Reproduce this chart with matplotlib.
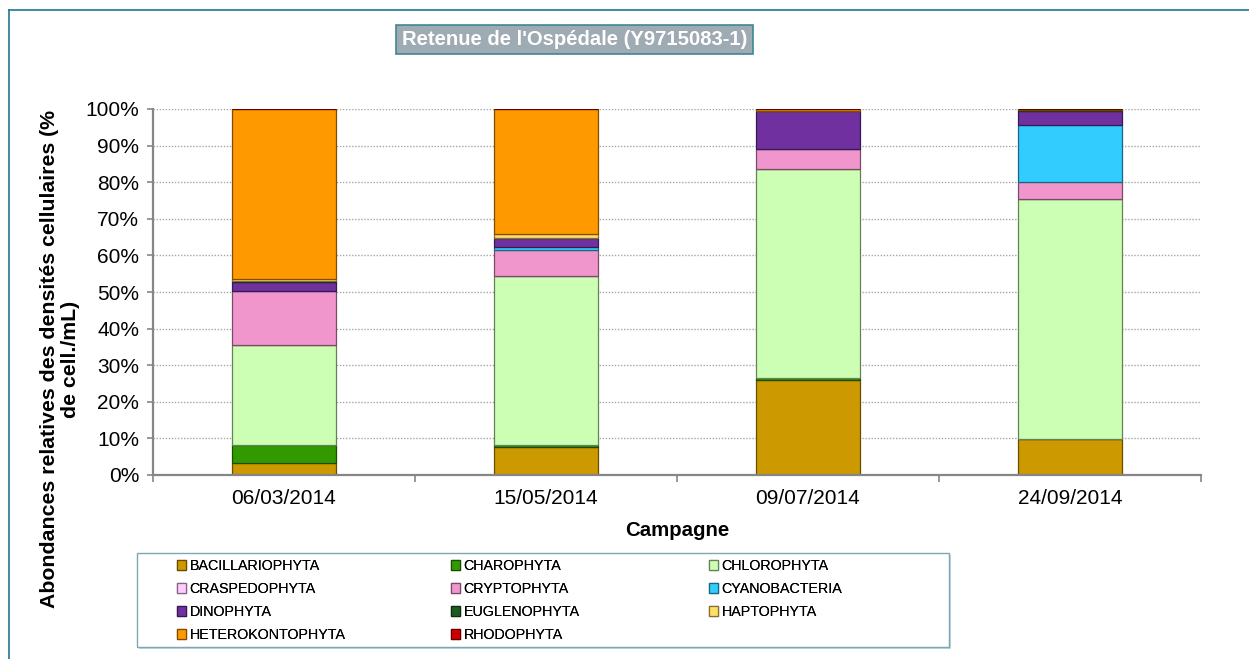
import matplotlib
matplotlib.use("Agg")
import matplotlib.pyplot as plt
import matplotlib.colors as mcolors
from matplotlib.patches import Rectangle
from matplotlib.lines import Line2D
import numpy as np

plt.rcParams['font.family'] = ['Liberation Sans', 'DejaVu Sans']

campagnes = ["06/03/2014", "15/05/2014", "09/07/2014", "24/09/2014"]
groupes = ["BACILLARIOPHYTA", "CHAROPHYTA", "CHLOROPHYTA", "CRASPEDOPHYTA",
           "CRYPTOPHYTA", "CYANOBACTERIA", "DINOPHYTA", "EUGLENOPHYTA",
           "HAPTOPHYTA", "HETEROKONTOPHYTA", "RHODOPHYTA"]
couleurs = ["#CC9900", "#339900", "#CCFFB3", "#FFCCFF", "#F096CC", "#33CCFF",
            "#7030A0", "#1F5A1F", "#FFE066", "#FF9900", "#CC0000"]

bacillariophyta = [3.4, 7.7, 26.0, 9.75]
charophyta = [4.7, 0.4, 0.6, 0.0]
chlorophyta = [27.3, 46.2, 56.9, 65.55]
craspedophyta = [0.0, 0.0, 0.0, 0.0]
cryptophyta = [14.8, 7.2, 5.5, 4.7]
cyanobacteria = [0.0, 0.9, 0.0, 15.6]
dinophyta = [2.5, 2.4, 10.4, 3.9]
euglenophyta = [0.2, 0.0, 0.0, 0.3]
haptophyta = [0.6, 1.0, 0.0, 0.0]
heterokontophyta = [46.5, 34.2, 0.6, 0.2]
rhodophyta = [0.0, 0.0, 0.0, 0.0]

series = [bacillariophyta, charophyta, chlorophyta, craspedophyta, cryptophyta,
          cyanobacteria, dinophyta, euglenophyta, haptophyta, heterokontophyta,
          rhodophyta]

W, H = 1249, 659
fig = plt.figure(figsize=(W / 100, H / 100), dpi=100)

def fx(px):
    return px / W

def fy(py):
    return 1 - py / H

ax = fig.add_axes([fx(153), fy(475), fx(1201) - fx(153), fy(109) - fy(475)])

x = np.arange(len(campagnes))
bottom = np.zeros(len(campagnes))
handles = []
for name, vals, col in zip(groupes, series, couleurs):
    vals = np.array(vals, dtype=float)
    rgb = np.array(mcolors.to_rgb(col))
    edge = tuple(rgb * 0.5)
    ax.bar(x, vals, 0.4, bottom=bottom, color=col, edgecolor=edge,
           linewidth=0.9, zorder=3)
    bottom += vals
    handles.append(Rectangle((0, 0), 1, 1, facecolor=col, edgecolor=edge, linewidth=0.9))

ax.set_xlim(-0.5, len(campagnes) - 0.5)
ax.set_ylim(0, 100)
ax.set_yticks(np.arange(0, 101, 10))
ax.set_yticklabels([f"{v}%" for v in range(0, 101, 10)], fontsize=15)
ax.set_xticks(x)
ax.set_xticklabels(campagnes, fontsize=15)
ax.set_xticks(np.arange(-0.5, len(campagnes), 1.0), minor=True)
ax.tick_params(axis='x', which='major', length=0, pad=10)
ax.tick_params(axis='x', which='minor', length=5, width=1.2, color='#868686', direction='out')
ax.tick_params(axis='y', length=4, width=1.2, color='#868686', pad=6)

for v in range(10, 101, 10):
    ax.axhline(v, color='#A6A6A6', linestyle=(0, (1, 1.2)), linewidth=1.0, zorder=1)

for s in ['top', 'right']:
    ax.spines[s].set_visible(False)
for s in ['left', 'bottom']:
    ax.spines[s].set_color('#868686')
    ax.spines[s].set_linewidth(1.6)
    ax.spines[s].set_zorder(4)

fig.text(fx(677), fy(530), "Campagne", ha='center', va='center',
         fontsize=14.7, fontweight='bold')
fig.text(fx(60), fy(359), "Abondances relatives des densités cellulaires (%\nde cell./mL)",
         rotation=90, ha='center', va='center', fontsize=15.3, fontweight='bold',
         multialignment='center', linespacing=1.15)

# title box
fig.text(fx(574.5), fy(39.5), "Retenue de l'Ospédale (Y9715083-1)", ha='center', va='center',
         fontsize=14.6, fontweight='bold', color='white',
         bbox=dict(boxstyle='square,pad=0.27', facecolor='#9EABB3', edgecolor='#3F8696',
                   linewidth=1.2))

# outer border (top and left lines)
fig.add_artist(Line2D([fx(9), 1.0], [fy(10), fy(10)], color='#1A7A8C', linewidth=1.2,
                      transform=fig.transFigure))
fig.add_artist(Line2D([fx(9), fx(9)], [fy(10), 0.0], color='#1A7A8C', linewidth=1.2,
                      transform=fig.transFigure))

# legend frame
fig.add_artist(Rectangle((fx(139), fy(649)), fx(951) - fx(139), fy(555) - fy(649),
                         transform=fig.transFigure, facecolor='#BFD9E2', edgecolor='none'))
fig.add_artist(Rectangle((fx(137), fy(647)), fx(949) - fx(137), fy(553) - fy(647),
                         transform=fig.transFigure, facecolor='white', edgecolor='#7DA7B4',
                         linewidth=1.0))

order_cols = [[0, 3, 6, 9], [1, 4, 7, 10], [2, 5, 8]]
col_x = [174, 448, 706]
for cx, idxs in zip(col_x, order_cols):
    leg = fig.legend([handles[i] for i in idxs], [groupes[i] for i in idxs],
                     loc='upper left', bbox_to_anchor=(fx(cx), fy(556)),
                     frameon=False, fontsize=10.3, handlelength=0.65, handleheight=0.65,
                     handletextpad=0.25, labelspacing=0.63, borderpad=0.2, borderaxespad=0)
    fig.add_artist(leg)

fig.savefig("out.png", dpi=100)
